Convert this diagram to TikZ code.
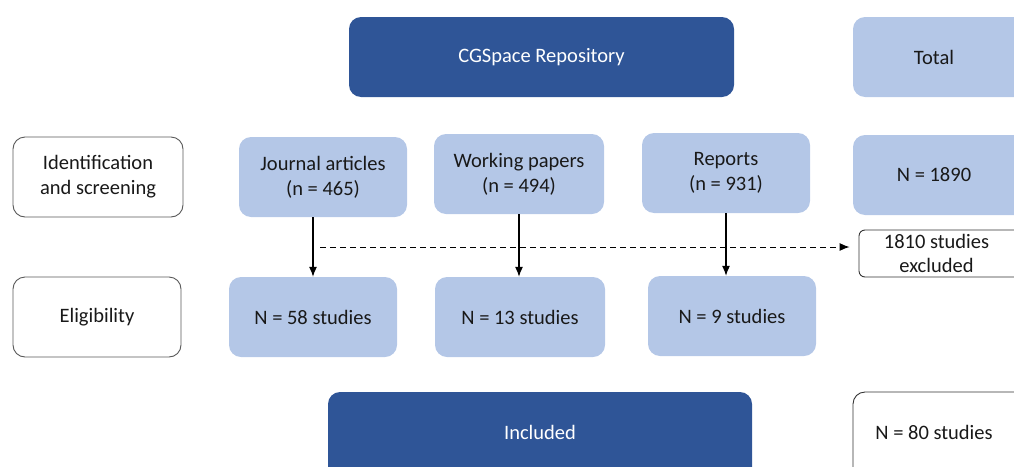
\documentclass[tikz,border=0pt]{standalone}
\usepackage{fontspec}
\setmainfont{Carlito}
\usetikzlibrary{arrows.meta}
\definecolor{darkb}{HTML}{2F5597}
\definecolor{lightb}{HTML}{B4C7E7}
\definecolor{edgeg}{HTML}{595959}
\tikzset{
  base/.style={rounded corners=12pt, inner sep=0pt, align=center, font=\fontsize{20.5}{25}\selectfont},
  dark/.style={base, fill=darkb, text=white},
  light/.style={base, fill=lightb, text=black!90},
  stage/.style={base, draw=edgeg, line width=0.9pt, fill=white, text=black!90},
  note/.style={base, rounded corners=6pt, draw=black!80, line width=0.9pt, fill=white, text=black!90},
  arr/.style={-{Latex[length=10pt,width=8pt]}, line width=1.1pt, black},
  darr/.style={-{Latex[length=10pt,width=8pt]}, line width=1pt, black, dash pattern=on 6pt off 4pt},
}
\begin{document}
\begin{tikzpicture}[x=1pt,y=-1pt]
\useasboundingbox (0,0) rectangle (1014,466);
\clip (0,0) rectangle (1014,466);
% top row
\node[dark, minimum width=385pt, minimum height=80pt] (cg) at (541.5,57) {CGSpace Repository};
\node[light, minimum width=175pt, minimum height=80pt] (tot) at (940.5,57) {\hspace*{-13pt}Total};
% identification row
\node[stage, minimum width=170pt, minimum height=80pt] (ids) at (98,177) {Identification\\and screening};
\node[light, minimum width=168pt, minimum height=80pt] (jour) at (323,177) {Journal articles\\(n = 465)};
\node[light, minimum width=170pt, minimum height=80pt] (wp) at (519,174) {Working papers\\(n = 494)};
\node[light, minimum width=168pt, minimum height=80pt] (rep) at (726,173) {Reports\\(n = 931)};
\node[light, minimum width=175pt, minimum height=80pt] (n1890) at (940.5,175) {\hspace*{-13pt}N = 1890};
% excluded
\node[note, minimum width=170pt, minimum height=47pt, font=\fontsize{20.5}{24}\selectfont] (excl) at (944,253.5) {1810 studies\hspace*{15pt}\\excluded\hspace*{15pt}};
% eligibility row
\node[stage, minimum width=168pt, minimum height=80pt] (elig) at (97,317) {Eligibility};
\node[light, minimum width=168pt, minimum height=80pt] (n58) at (313,317) {N = 58 studies};
\node[light, minimum width=170pt, minimum height=80pt] (n13) at (520,317) {N = 13 studies};
\node[light, minimum width=168pt, minimum height=80pt] (n9) at (732,316) {N = 9 studies};
% included row
\node[dark, minimum width=424pt, minimum height=90pt] (inc) at (540,437) {\raisebox{10pt}{Included}};
\node[note, rounded corners=12pt, minimum width=175pt, minimum height=90pt] (n80) at (940.5,437) {\raisebox{10pt}{\hspace*{-13pt}N = 80 studies}};
% arrows
\draw[arr] (n58.north |- jour.south) -- (n58.north);
\draw[arr] (wp.south) -- (wp.south |- n13.north);
\draw[arr] (rep.south) -- (rep.south |- n9.north);
\coordinate (dstart) at (320,247);
\draw[darr] (dstart) -- ([xshift=-9pt]excl.west |- dstart);
\end{tikzpicture}
\end{document}
